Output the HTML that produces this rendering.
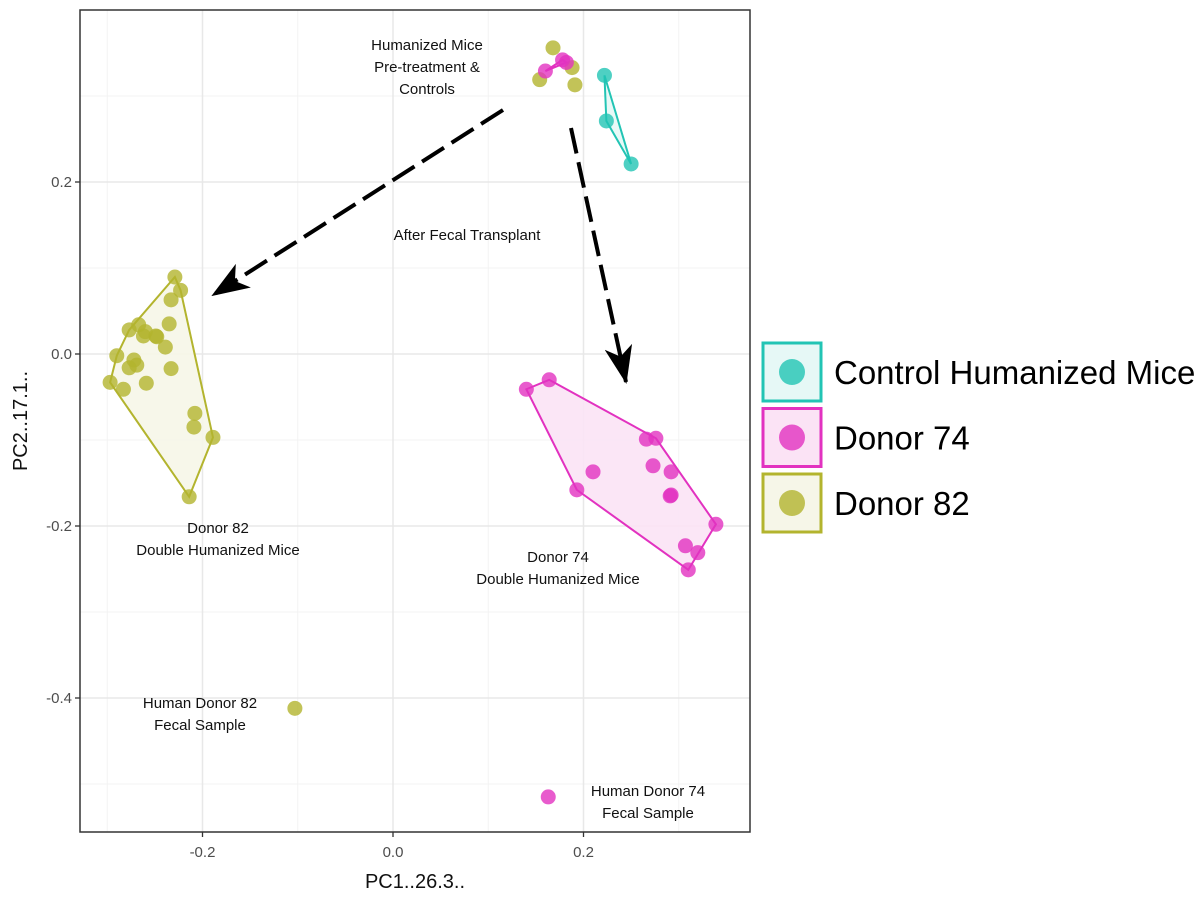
<!DOCTYPE html>
<html><head><meta charset="utf-8"><style>
body{margin:0;background:#fff;font-family:"Liberation Sans",sans-serif}
</style></head><body>
<svg id="chart" width="1200" height="897" xmlns="http://www.w3.org/2000/svg" font-family="Liberation Sans, sans-serif">
<defs><marker id="ah" markerWidth="38" markerHeight="28" refX="36" refY="14" orient="auto" markerUnits="userSpaceOnUse" viewBox="0 0 38 28"><path d="M0,0 L38,14 L0,28 L10,14 z" fill="#000"/></marker></defs>
<g id="grid"></g><g id="hulls"></g><g id="pts"></g><g id="annot"></g><g id="axes"></g>
</svg>
<script>
const xTicks=[-0.2,0,0.2];
const xTickLabels=["-0.2","0.0","0.2"];
const yTicks=[0.2,0,-0.2,-0.4];
const yTickLabels=["0.2","0.0","-0.2","-0.4"];
const xMinor=[-0.3,-0.1,0.1,0.3];
const yMinor=[0.3,0.1,-0.1,-0.3,-0.5];
const d82x=[-0.229,-0.223,-0.233,-0.235,-0.249,-0.277,-0.267,-0.260,-0.262,-0.248,-0.239,-0.290,-0.272,-0.269,-0.277,-0.297,-0.283,-0.233,-0.259,-0.208,-0.209,-0.189,-0.214];
const d82y=[0.0895,0.074,0.063,0.035,0.021,0.028,0.034,0.026,0.021,0.020,0.008,-0.002,-0.007,-0.013,-0.016,-0.033,-0.041,-0.017,-0.034,-0.069,-0.085,-0.097,-0.166];
const d74x=[0.140,0.164,0.193,0.210,0.266,0.276,0.273,0.292,0.291,0.292,0.339,0.307,0.320,0.310];
const d74y=[-0.041,-0.030,-0.158,-0.137,-0.099,-0.098,-0.130,-0.137,-0.165,-0.164,-0.198,-0.223,-0.231,-0.251];
const pre82x=[0.168,0.154,0.188,0.191];
const pre82y=[0.356,0.319,0.333,0.313];
const pre74x=[0.160,0.178,0.182];
const pre74y=[0.329,0.342,0.339];
const ctrlx=[0.222,0.224,0.250];
const ctrly=[0.324,0.271,0.221];
const hum82x=[-0.103], hum82y=[-0.412];
const hum74x=[0.163], hum74y=[-0.515];

const L=80,R=750,T=10,B=832;
const X=v=>393+v*952.5, Y=v=>354-v*860;
const NS="http://www.w3.org/2000/svg";
function mk(tag,attrs,parent,text){const e=document.createElementNS(NS,tag);for(const k in attrs)e.setAttribute(k,attrs[k]);if(text!==undefined)e.textContent=text;document.getElementById(parent).appendChild(e);return e;}
const C={ctrl:"#22c4b4",d74:"#e232c0",d82:"#b3b42e"};
const F={ctrl:"#e6f8f6",d74:"#fbe3f5",d82:"#f6f6e8"};

xMinor.forEach(v=>{const e=mk("line",{x1:X(v),x2:X(v),y1:T,y2:B,stroke:"#f3f3f3","stroke-width":1},"grid");});
yMinor.forEach(v=>{const e=mk("line",{x1:L,x2:R,y1:Y(v),y2:Y(v),stroke:"#f3f3f3","stroke-width":1},"grid");});
xTicks.forEach(v=>{const e=mk("line",{x1:X(v),x2:X(v),y1:T,y2:B,stroke:"#e8e8e8","stroke-width":1.5},"grid");});
yTicks.forEach(v=>{const e=mk("line",{x1:L,x2:R,y1:Y(v),y2:Y(v),stroke:"#e8e8e8","stroke-width":1.5},"grid");});

function hull(xs,ys){let p=xs.map((x,i)=>[X(x),Y(ys[i])]).sort((a,b)=>a[0]-b[0]||a[1]-b[1]);const cr=(o,a,b)=>(a[0]-o[0])*(b[1]-o[1])-(a[1]-o[1])*(b[0]-o[0]);const lo=[],up=[];for(const q of p){while(lo.length>=2&&cr(lo[lo.length-2],lo[lo.length-1],q)<=0)lo.pop();lo.push(q);}for(const q of p.slice().reverse()){while(up.length>=2&&cr(up[up.length-2],up[up.length-1],q)<=0)up.pop();up.push(q);}return lo.slice(0,-1).concat(up.slice(0,-1));}
function drawHull(xs,ys,g,name){const h=hull(xs,ys);const e=mk("polygon",{points:h.map(p=>p.join(",")).join(" "),fill:F[g],stroke:C[g],"stroke-width":2,"fill-opacity":0.9},"hulls");}
drawHull(d82x,d82y,"d82","donor82-hull");
drawHull(d74x,d74y,"d74","donor74-hull");
drawHull(pre74x,pre74y,"d74","donor74-pretreatment-hull");
drawHull(ctrlx,ctrly,"ctrl","control-hull");

function pts(xs,ys,g,name){xs.forEach((x,i)=>{const e=mk("circle",{cx:X(x),cy:Y(ys[i]),r:7.5,fill:C[g],"fill-opacity":0.8},"pts");});}
pts(d82x,d82y,"d82","donor82-point");pts(pre82x,pre82y,"d82","donor82-pretreatment-point");pts(hum82x,hum82y,"d82","human-donor82-point");
pts(d74x,d74y,"d74","donor74-point");pts(pre74x,pre74y,"d74","donor74-pretreatment-point");pts(hum74x,hum74y,"d74","human-donor74-point");
pts(ctrlx,ctrly,"ctrl","control-point");

[[503,110,213,295],[571,128,626,382]].forEach((a,i)=>{const e=mk("line",{x1:a[0],y1:a[1],x2:a[2],y2:a[3],stroke:"#000","stroke-width":4,"stroke-dasharray":"26,9","marker-end":"url(#ah)"},"annot");});
const labels=[[427,50,"Humanized Mice"],[427,72,"Pre-treatment &"],[427,94,"Controls"],[467,240,"After Fecal Transplant"],[218,533,"Donor 82"],[218,555,"Double Humanized Mice"],[558,562,"Donor 74"],[558,584,"Double Humanized Mice"],[200,708,"Human Donor 82"],[200,730,"Fecal Sample"],[648,796,"Human Donor 74"],[648,818,"Fecal Sample"]];
labels.forEach(l=>{const e=mk("text",{x:l[0],y:l[1],"text-anchor":"middle","font-size":15,fill:"#111"},"annot",l[2]);});

let e=mk("rect",{x:L,y:T,width:R-L,height:B-T,fill:"none",stroke:"#333","stroke-width":1.5},"axes");
xTicks.forEach((v,i)=>{let t=mk("line",{x1:X(v),x2:X(v),y1:B,y2:B+5,stroke:"#333","stroke-width":1.3},"axes");
 let s=mk("text",{x:X(v),y:B+25,"text-anchor":"middle","font-size":15,fill:"#4d4d4d"},"axes",xTickLabels[i]);});
yTicks.forEach((v,i)=>{let t=mk("line",{x1:L-5,x2:L,y1:Y(v),y2:Y(v),stroke:"#333","stroke-width":1.3},"axes");
 let s=mk("text",{x:L-8,y:Y(v)+5,"text-anchor":"end","font-size":15,fill:"#4d4d4d"},"axes",yTickLabels[i]);});
e=mk("text",{x:415,y:888,"text-anchor":"middle","font-size":20,fill:"#111"},"axes","PC1..26.3..");
e=mk("text",{x:0,y:0,"text-anchor":"middle","font-size":20,fill:"#111",transform:"translate(27,421) rotate(-90)"},"axes","PC2..17.1..");

[["ctrl","Control Humanized Mice"],["d74","Donor 74"],["d82","Donor 82"]].forEach((g,i)=>{const y0=343+i*65.5;
 let r=mk("rect",{x:763,y:y0,width:58,height:58,fill:F[g[0]],stroke:C[g[0]],"stroke-width":3},"axes");
 let c=mk("circle",{cx:792,cy:y0+29,r:13,fill:C[g[0]],"fill-opacity":0.8},"axes");
 let t=mk("text",{x:834,y:y0+41,"font-size":33,fill:"#000"},"axes",g[1]);});
</script>
</body></html>
